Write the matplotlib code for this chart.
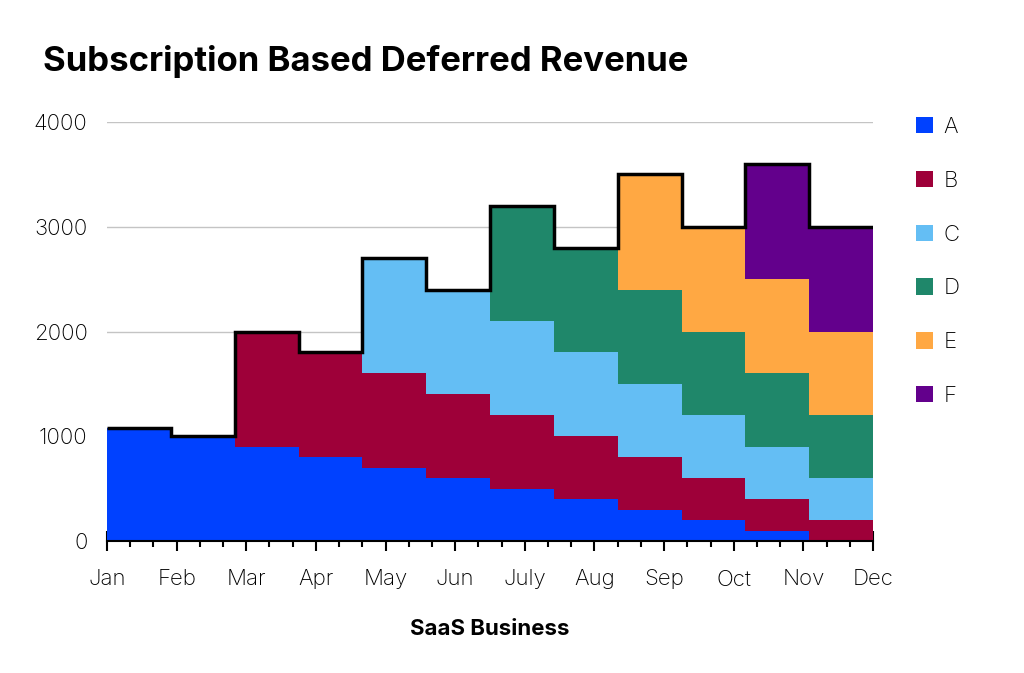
import numpy as np
import matplotlib.pyplot as plt
from matplotlib.patches import Patch
from matplotlib.ticker import MultipleLocator

# data: 12 billing periods spread across Jan..Dec
months = ["Jan", "Feb", "Mar", "Apr", "May", "Jun", "July", "Aug", "Sep", "Oct", "Nov", "Dec"]
series_names = ["A", "B", "C", "D", "E", "F"]
A = [1080, 1000, 900, 800, 700, 600, 500, 400, 300, 200, 100, 10]
B = [0, 0, 1100, 1000, 900, 800, 700, 600, 500, 400, 300, 190]
C = [0, 0, 0, 0, 1100, 1000, 900, 800, 700, 600, 500, 400]
D = [0, 0, 0, 0, 0, 0, 1100, 1000, 900, 800, 700, 600]
E = [0, 0, 0, 0, 0, 0, 0, 0, 1100, 1000, 900, 800]
F = [0, 0, 0, 0, 0, 0, 0, 0, 0, 0, 1100, 1000]
colors = ["#0041FF", "#9E0039", "#64BEF4", "#1F876A", "#FFA843", "#63008C"]

plt.rcParams["font.family"] = ["Inter", "DejaVu Sans"]

fig = plt.figure(figsize=(10.24, 6.73), dpi=100)
ax = fig.add_axes([107/1024, 1-541/673, (873-107)/1024, (541-122)/673])

edges = np.linspace(0, 11, 13)
bottom = np.zeros(12)
for vals, c in zip([A, B, C, D, E, F], colors):
    vals = np.array(vals, dtype=float)
    ax.stairs(bottom + vals, edges, baseline=bottom.copy(), fill=True,
              color=c, lw=0, zorder=2)
    bottom = bottom + vals

# black outline along the top
ax.stairs(bottom, edges, baseline=None, color="black", lw=2.5, zorder=3)

ax.set_xlim(0, 11)
ax.set_ylim(0, 4000)
ax.set_yticks([0, 1000, 2000, 3000, 4000])
ax.grid(axis="y", color="#c4c4c4", lw=1, zorder=0)
ax.set_axisbelow(True)

ax.set_xticks(range(12))
ax.set_xticklabels(months)
ax.xaxis.set_minor_locator(MultipleLocator(1/3))
ax.tick_params(axis="x", which="major", direction="inout", length=15, width=1.5,
               pad=13, labelsize=16)
ax.tick_params(axis="x", which="minor", direction="inout", length=8, width=1.5)
ax.tick_params(axis="y", length=0, pad=14, labelsize=16)
for lab in ax.get_xticklabels() + ax.get_yticklabels():
    lab.set_fontweight("light")

for s in ["top", "right", "left"]:
    ax.spines[s].set_visible(False)
ax.spines["bottom"].set_linewidth(1.5)
ax.spines["bottom"].set_zorder(4)

ax.set_xlabel("SaaS Business", fontsize=16, fontweight="bold", labelpad=21)
fig.text(43/1024, 1-61/673, "Subscription Based Deferred Revenue",
         fontsize=25, fontweight="bold", va="center", ha="left")

handles = [Patch(facecolor=c, edgecolor="none") for c in colors]
fig.legend(handles, series_names, loc="upper left", bbox_to_anchor=(896/1024, 1-97/673),
           frameon=False, handlelength=0.75, handleheight=0.75,
           handletextpad=0.5, labelspacing=1.52, prop={"weight": "light", "size": 16})

fig.savefig("out.png", dpi=100)
